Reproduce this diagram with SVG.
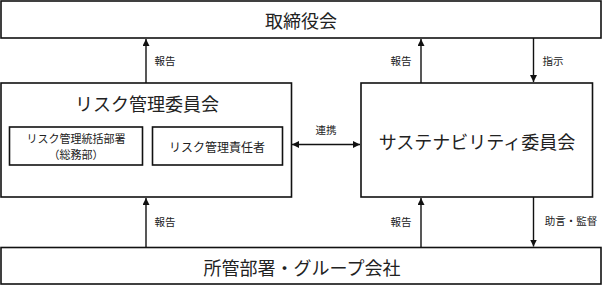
<svg xmlns="http://www.w3.org/2000/svg" width="603" height="286" viewBox="0 0 603 286">
<style>
.box{fill:#fff;stroke:#111;stroke-width:1.6}
.ln{stroke:#111;stroke-width:1.4;fill:none}
text{font-family:"Noto Sans CJK JP","Noto Sans",sans-serif;fill:#222;text-anchor:middle;dominant-baseline:central}
.big{font-size:18px}
.mid{font-size:12px}
.mid2{font-size:11px}
.sm{font-size:10.5px}
</style>
<defs>
<marker id="ah" viewBox="0 0 10 10" refX="10" refY="5" markerWidth="7" markerHeight="7" markerUnits="userSpaceOnUse" orient="auto-start-reverse">
<path d="M0,0 L10,5 L0,10 z" fill="#111"/>
</marker>
</defs>
<rect width="603" height="286" fill="#fff"/>
<g id="board">
<rect class="box" x="1" y="1" width="600" height="37"/>
<text class="big" x="301" y="19.5">取締役会</text>
</g>
<g id="risk-committee">
<rect class="box" x="1" y="83" width="290.5" height="114"/>
<text class="big" x="147" y="103">リスク管理委員会</text>
</g>
<g id="risk-dept">
<rect class="box" x="9.5" y="127" width="133" height="38"/>
<text class="mid2" x="76" y="137.5">リスク管理統括部署</text>
<text class="mid2" x="76" y="153.5">（総務部）</text>
</g>
<g id="risk-officer">
<rect class="box" x="152.5" y="127" width="130" height="38"/>
<text class="mid" x="217" y="146">リスク管理責任者</text>
</g>
<g id="sustainability">
<rect class="box" x="361" y="83" width="231.5" height="114"/>
<text class="big" x="477" y="141">サステナビリティ委員会</text>
</g>
<g id="departments">
<rect class="box" x="1" y="247.5" width="600" height="36.5"/>
<text class="big" x="302" y="267">所管部署・グループ会社</text>
</g>
<g id="connectors">
<line class="ln" x1="146" y1="83" x2="146" y2="39" marker-end="url(#ah)"/>
<text class="sm" x="165" y="60">報告</text>
<line class="ln" x1="421" y1="83" x2="421" y2="39" marker-end="url(#ah)"/>
<text class="sm" x="401" y="60">報告</text>
<line class="ln" x1="533.5" y1="38" x2="533.5" y2="82" marker-end="url(#ah)"/>
<text class="sm" x="553" y="60">指示</text>
<line class="ln" x1="292" y1="144.5" x2="360" y2="144.5" marker-start="url(#ah)" marker-end="url(#ah)"/>
<text class="sm" x="326" y="129">連携</text>
<line class="ln" x1="146" y1="247" x2="146" y2="198" marker-end="url(#ah)"/>
<text class="sm" x="165" y="221">報告</text>
<line class="ln" x1="421" y1="247" x2="421" y2="198" marker-end="url(#ah)"/>
<text class="sm" x="401" y="221">報告</text>
<line class="ln" x1="533.5" y1="197" x2="533.5" y2="246.5" marker-end="url(#ah)"/>
<text class="sm" x="571" y="220">助言・監督</text>
</g>
</svg>
